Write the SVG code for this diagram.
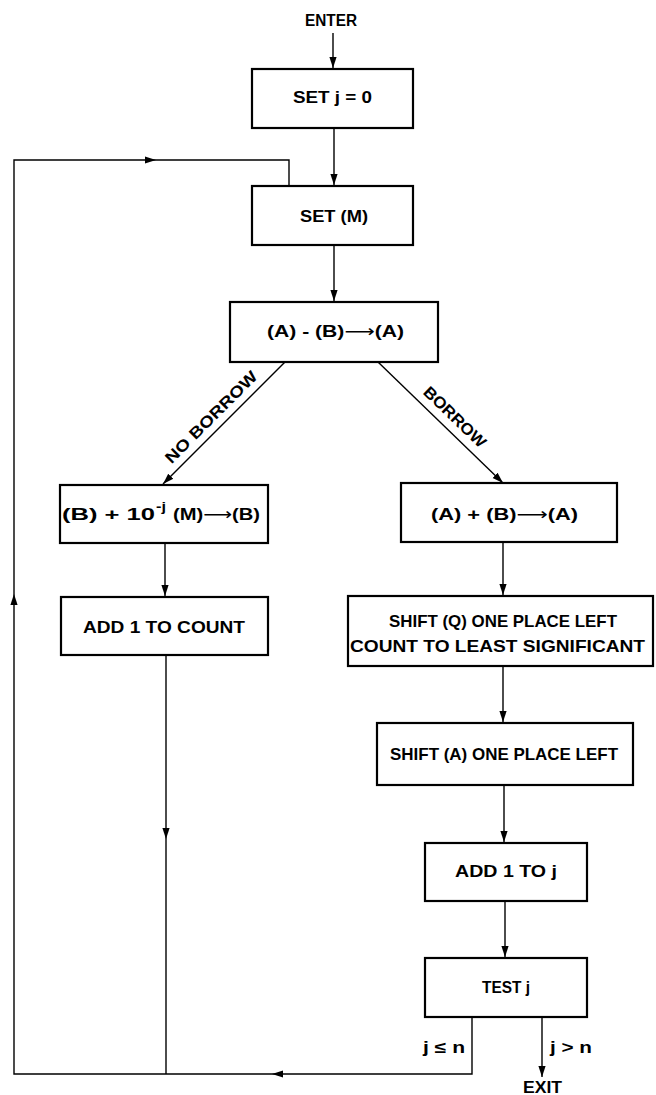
<svg xmlns="http://www.w3.org/2000/svg" xmlns:xlink="http://www.w3.org/1999/xlink" width="656" height="1095" viewBox="0 0 656 1095">
<style>
.box{fill:#fff;stroke:#000;stroke-width:2.2}
.t{font-family:"Liberation Sans",Arial,sans-serif;font-weight:bold;font-size:17px;fill:#000;text-anchor:middle}
.s{font-size:16px}
.ar{font-family:"DejaVu Sans",sans-serif;font-weight:normal}
.c{fill:none;stroke:#000;stroke-width:1.4}
.ah{fill:#000}
</style>
<defs>
<marker id="arr" markerUnits="userSpaceOnUse" markerWidth="12" markerHeight="10" viewBox="-11 -5 12 10" refX="0" refY="0" orient="auto">
<path d="M0,0 L-11,-3.6 L-11,3.6 Z" fill="#000"/>
</marker>
<path id="ah" d="M0,0 L-11,-3.6 L-11,3.6 Z"/>
</defs>
<rect width="656" height="1095" fill="#fff"/>
<g id="connectors">
<line class="c" x1="333" y1="33" x2="333" y2="68" marker-end="url(#arr)"/>
<line class="c" x1="334" y1="128" x2="334" y2="185" marker-end="url(#arr)"/>
<line class="c" x1="334" y1="245" x2="334" y2="301" marker-end="url(#arr)"/>
<line class="c" x1="285" y1="362" x2="163" y2="484" marker-end="url(#arr)"/>
<line class="c" x1="378" y1="362" x2="503" y2="483" marker-end="url(#arr)"/>
<line class="c" x1="165" y1="543" x2="165" y2="596" marker-end="url(#arr)"/>
<line class="c" x1="503" y1="542" x2="503" y2="595" marker-end="url(#arr)"/>
<line class="c" x1="503" y1="666" x2="503" y2="722" marker-end="url(#arr)"/>
<line class="c" x1="504" y1="785" x2="504" y2="842" marker-end="url(#arr)"/>
<line class="c" x1="505" y1="901" x2="505" y2="957" marker-end="url(#arr)"/>
<line class="c" x1="542" y1="1017" x2="542" y2="1077" marker-end="url(#arr)"/>
<path class="c" d="M472,1017 V1074 H14 V160 H289 V186"/>
<path class="c" d="M166,655 V1074"/>
<use href="#ah" class="ah" transform="translate(272,1074) rotate(180)"/>
<use href="#ah" class="ah" transform="translate(14,594) rotate(-90)"/>
<use href="#ah" class="ah" transform="translate(156,160)"/>
<use href="#ah" class="ah" transform="translate(166,839) rotate(90)"/>
</g>
<g id="enter"><text class="t s" x="331" y="26" textLength="52" lengthAdjust="spacingAndGlyphs">ENTER</text></g>
<g id="setj"><rect class="box" x="252" y="69" width="161" height="59"/><text class="t" x="332.5" y="103" textLength="79" lengthAdjust="spacingAndGlyphs">SET j = 0</text></g>
<g id="setm"><rect class="box" x="252" y="186" width="161" height="59"/><text class="t" x="334" y="222" textLength="68" lengthAdjust="spacingAndGlyphs">SET (M)</text></g>
<g id="sub"><rect class="box" x="230" y="302" width="208" height="60"/><text class="t" x="335.5" y="337" textLength="137" lengthAdjust="spacingAndGlyphs">(A) - (B)<tspan class="ar">⟶</tspan>(A)</text></g>
<g id="lbl-noborrow"><text class="t s" transform="translate(215,421) rotate(-45)" x="0" y="0" textLength="123" lengthAdjust="spacingAndGlyphs">NO BORROW</text></g>
<g id="lbl-borrow"><text class="t s" transform="translate(451,421) rotate(44)" x="0" y="0" textLength="80" lengthAdjust="spacingAndGlyphs">BORROW</text></g>
<g id="addb"><rect class="box" x="60" y="485" width="208" height="58"/>
<text class="t" x="108.5" y="520" textLength="93" lengthAdjust="spacingAndGlyphs">(B) + 10</text>
<text class="t" x="161" y="511" style="font-size:12px" textLength="10" lengthAdjust="spacingAndGlyphs">-j</text>
<text class="t" x="216.5" y="520" textLength="87" lengthAdjust="spacingAndGlyphs">(M)<tspan class="ar">⟶</tspan>(B)</text></g>
<g id="adda"><rect class="box" x="401" y="483" width="216" height="59"/><text class="t" x="504.5" y="520" textLength="147" lengthAdjust="spacingAndGlyphs">(A) + (B)<tspan class="ar">⟶</tspan>(A)</text></g>
<g id="addcount"><rect class="box" x="61" y="597" width="207" height="58"/><text class="t" x="164" y="633" textLength="162" lengthAdjust="spacingAndGlyphs">ADD 1 TO COUNT</text></g>
<g id="shiftq"><rect class="box" x="348" y="596" width="305" height="70"/>
<text class="t" x="503" y="627" textLength="228" lengthAdjust="spacingAndGlyphs">SHIFT (Q) ONE PLACE LEFT</text>
<text class="t" x="497.5" y="652" textLength="295" lengthAdjust="spacingAndGlyphs">COUNT TO LEAST SIGNIFICANT</text></g>
<g id="shifta"><rect class="box" x="377" y="723" width="256" height="62"/><text class="t" x="504" y="760" textLength="228" lengthAdjust="spacingAndGlyphs">SHIFT (A) ONE PLACE LEFT</text></g>
<g id="addj"><rect class="box" x="425" y="843" width="162" height="58"/><text class="t" x="506" y="877" textLength="102" lengthAdjust="spacingAndGlyphs">ADD 1 TO j</text></g>
<g id="testj"><rect class="box" x="425" y="958" width="162" height="59"/><text class="t" x="506" y="993" textLength="48" lengthAdjust="spacingAndGlyphs">TEST j</text></g>
<g id="lbl-le"><text class="t s" x="444" y="1053" textLength="42" lengthAdjust="spacingAndGlyphs">j ≤ n</text></g>
<g id="lbl-gt"><text class="t s" x="571" y="1053" textLength="42" lengthAdjust="spacingAndGlyphs">j &gt; n</text></g>
<g id="exit"><text class="t s" x="542.5" y="1093" textLength="39" lengthAdjust="spacingAndGlyphs">EXIT</text></g>
</svg>
